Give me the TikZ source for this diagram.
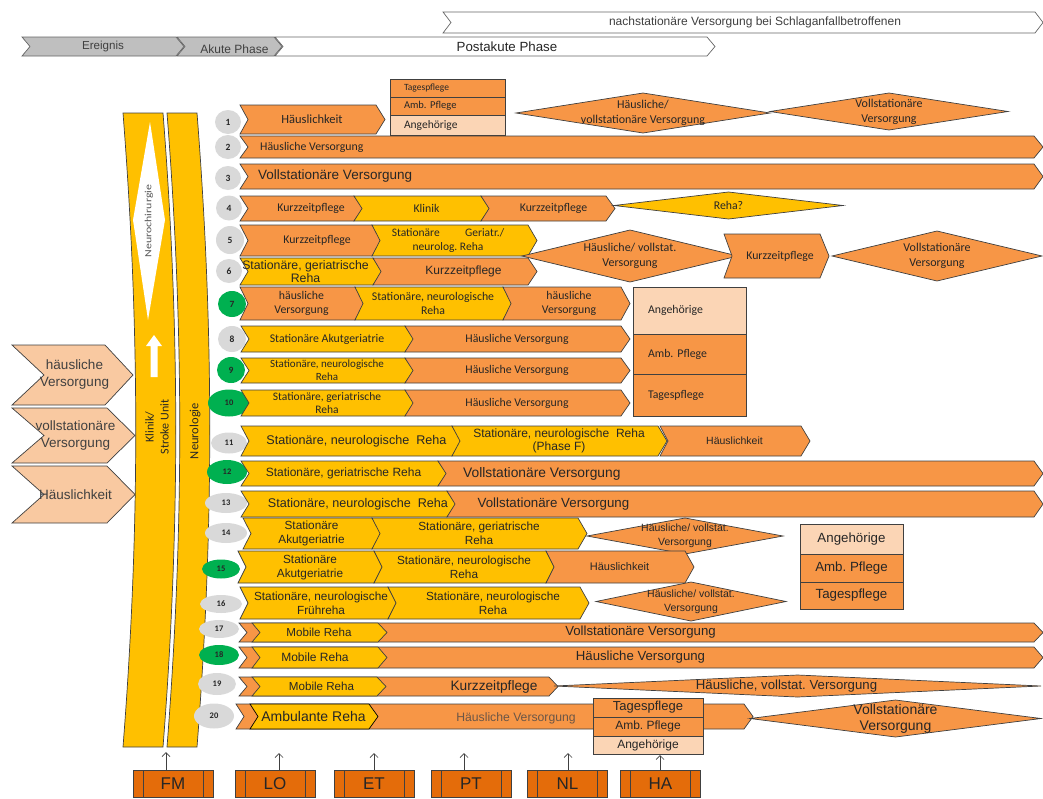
\documentclass[tikz,border=0pt]{standalone}
\usepackage{fontspec}
\setmainfont{Liberation Sans}
\newfontfamily\calfont{Carlito}
\newfontfamily\arifont{Liberation Sans}
\usetikzlibrary{arrows.meta,shapes.geometric}
\frenchspacing

\definecolor{orng}{HTML}{F79646}
\definecolor{gold}{HTML}{FFC000}
\definecolor{peach}{HTML}{FBD5B5}
\definecolor{apricot}{HTML}{F9C9A1}
\definecolor{rust}{HTML}{E46C0A}
\definecolor{greenc}{HTML}{00B050}
\definecolor{greyc}{HTML}{D9D9D9}
\definecolor{headgrey}{HTML}{BFBFBF}
\definecolor{ink}{HTML}{262626}
\definecolor{lineC}{HTML}{404040}
\definecolor{taupe}{HTML}{6B5646}

\newcommand\fs[2]{\fontsize{#1}{#2}\selectfont}
\newcommand\tipd{9}
\newcommand\notchd{8}

% chevron: name, left x, body right x, top y, bottom y, shape style, text options, text
\newcommand\chev[8]{%
  \path[#6] (#2,#4) -- (#3,#4) -- ({#3+\tipd},{(#4+#5)/2}) -- (#3,#5) -- (#2,#5) -- ({#2+\notchd},{(#4+#5)/2}) -- cycle;
  \node[lbl,#7] (#1) at ({(#2+#3+\notchd)/2},{(#4+#5)/2}) {#8};}
% diamond: name, left x, right x, top y, bottom y, shape style, text options, text
\newcommand\diam[8]{%
  \path[#6] (#2,{(#4+#5)/2}) -- ({(#2+#3)/2},#4) -- (#3,{(#4+#5)/2}) -- ({(#2+#3)/2},#5) -- cycle;
  \node[lbl,#7] (#1) at ({(#2+#3)/2},{(#4+#5)/2}) {#8};}
% rectangular cell: name, left x, right x, top y, bottom y, shape style, text options, text
\newcommand\cell[8]{%
  \path[#6] (#2,#4) rectangle (#3,#5);
  \node[lbl,#7] (#1) at ({(#2+#3)/2},{(#4+#5)/2}) {#8};}

\tikzset{
  shp/.style={draw=lineC,line width=0.7pt,line join=miter},
  boxO/.style={shp,fill=orng},
  boxY/.style={shp,fill=gold},
  boxP/.style={shp,fill=peach},
  boxA/.style={shp,fill=apricot},
  hdrG/.style={shp,draw=black!60,fill=headgrey},
  hdrW/.style={shp,draw=black!60,fill=white},
  lbl/.style={inner sep=0pt,align=center,text=ink,font=\calfont\fs{11.8}{14}},
  af/.style 2 args={font=\arifont\fs{#1}{#2}},
  cf/.style 2 args={font=\calfont\fs{#1}{#2}},
  numb/.style={ellipse,inner sep=0pt,text=ink,font=\calfont\bfseries\fs{9.5}{10}},
  numbs/.style={numb,font=\calfont\bfseries\fs{8.5}{9}},
  pbox/.style={draw=lineC,line width=0.7pt,fill=rust,minimum width=80,minimum height=27,
    inner sep=0pt,text=ink,font=\arifont\fs{17}{17},
    path picture={\draw[lineC,line width=0.7pt]
      ([xshift=10pt]path picture bounding box.north west) -- ([xshift=10pt]path picture bounding box.south west)
      ([xshift=-10pt]path picture bounding box.north east) -- ([xshift=-10pt]path picture bounding box.south east);}},
  conn/.style={draw=lineC,line width=0.7pt,-{Straight Barb[length=4pt,width=8pt]}}
}

\begin{document}
\begin{tikzpicture}[x=1pt,y=-1pt]
\useasboundingbox (0,0) rectangle (1043,798);

% ---------- phase header ----------
\renewcommand\tipd{8}\renewcommand\notchd{8}
\chev{nach}{443}{1035}{12}{33}{hdrW}{af={12}{14},text=lineC,xshift=12}{nachstationäre Versorgung bei Schlaganfallbetroffenen}
\chev{ereig}{22}{176}{37}{56}{hdrG}{af={11.6}{13},text=lineC}{Ereignis}
\chev{akut}{177}{274}{37}{56}{hdrG}{af={12}{13},text=lineC,xshift=5,yshift=-3}{Akute Phase}
\chev{post}{275}{707}{37}{56}{hdrW}{af={13.3}{15},text=ink,xshift=12}{Postakute Phase}

% ---------- entry points on the left ----------
\renewcommand\tipd{28}\renewcommand\notchd{32}
\chev{lhv}{12}{105}{345}{405}{boxA}{af={13.5}{17},text=lineC}{häusliche\\Versorgung}
\chev{lvv}{12}{107}{408}{463}{boxA}{af={13.5}{17},text=lineC}{vollstationäre\\Versorgung}
\chev{lhk}{12}{107}{466}{523}{boxA}{af={13.5}{17},text=lineC}{Häuslichkeit}

% ---------- acute care columns ----------
\path[boxY] (123,113) -- (163,113) .. controls (180,330) and (180,530) .. (163,747)
  -- (123,747) .. controls (140,530) and (140,330) .. (123,113) -- cycle;
\path[boxY] (167,113) -- (197,113) .. controls (214,330) and (214,530) .. (197,747)
  -- (167,747) .. controls (184,530) and (184,330) .. (167,113) -- cycle;
\path[fill=white] (150,122) -- (165,220) -- (148,320) -- (133,220) -- cycle;
\path[fill=white] (154,335) -- (162,346) -- (157.5,346) -- (157.5,377) -- (150.5,377)
  -- (150.5,346) -- (146,346) -- cycle;
\node[rotate=90,inner sep=0pt,text=black!65,font=\calfont\fs{9.5}{10}] (neuroc) at (149,221)
  {\scalebox{1.25}[1]{Neurochirurgie}};
\node[rotate=90,inner sep=0pt,align=center,text=ink,font=\calfont\fs{12}{15}] (klinik) at (157,427)
  {Klinik/\\Stroke Unit};
\node[rotate=90,inner sep=0pt,text=ink,font=\calfont\fs{12.5}{14}] (neurol) at (195,431) {Neurologie};

% ---------- pathway numbers ----------
\node[numb,fill=greyc,minimum width=26,minimum height=24] (n1) at (228,122) {1};
\node[numb,fill=greyc,minimum width=26,minimum height=24] (n2) at (228,147) {2};
\node[numb,fill=greyc,minimum width=26,minimum height=24] (n3) at (228,178) {3};
\node[numb,fill=greyc,minimum width=26,minimum height=25] (n4) at (229,208) {4};
\node[numb,fill=greyc,minimum width=28,minimum height=28] (n5) at (230,240) {5};
\node[numb,fill=greyc,minimum width=26,minimum height=24] (n6) at (229,271) {6};
\node[numb,fill=greenc,minimum width=28,minimum height=26] (n7) at (232,304) {7};
\node[numb,fill=greyc,minimum width=28,minimum height=26] (n8) at (232,339) {8};
\node[numb,fill=greenc,minimum width=28,minimum height=26] (n9) at (231,370) {9};
\node[numbs,fill=greenc,minimum width=42,minimum height=27] (n10) at (229,403) {10};
\node[numbs,fill=greyc,minimum width=36,minimum height=21] (n11) at (229,443) {11};
\node[numbs,fill=greenc,minimum width=40,minimum height=24] (n12) at (227,472) {12};
\node[numbs,fill=greyc,minimum width=42,minimum height=20] (n13) at (226,503) {13};
\node[numbs,fill=greyc,minimum width=42,minimum height=20] (n14) at (226,533) {14};
\node[numbs,fill=greenc,minimum width=38,minimum height=19] (n15) at (221,569) {15};
\node[numbs,fill=greyc,minimum width=42,minimum height=18] (n16) at (221,604) {16};
\node[numbs,fill=greyc,minimum width=40,minimum height=18] (n17) at (219,629) {17};
\node[numbs,fill=greenc,minimum width=40,minimum height=20] (n18) at (219,655) {18};
\node[numbs,fill=greyc,minimum width=38,minimum height=22] (n19) at (217,684) {19};
\node[numbs,fill=greyc,minimum width=40,minimum height=25] (n20) at (214,716) {20};

% ---------- pathways ----------
\renewcommand\tipd{9}\renewcommand\notchd{8}
% 1
\chev{r1a}{240}{376}{105}{134}{boxO}{cf={12.5}{14}}{Häuslichkeit}
\cell{r1t}{390}{505}{79}{97}{boxO}{cf={9.5}{11},text width=87,align=left}{Tagespflege}
\cell{r1m}{390}{505}{97}{115}{boxO}{cf={10.5}{12},text width=87,align=left}{Amb. Pflege}
\cell{r1g}{390}{505}{115}{135}{boxP}{cf={11.5}{13},text width=87,align=left}{Angehörige}
\diam{r1d}{516}{770}{93}{133}{boxO}{cf={12}{15}}{Häusliche/\\vollstationäre Versorgung}
\diam{r1e}{770}{1008}{93}{130}{boxO}{cf={12}{15}}{Vollstationäre\\Versorgung}
% 2, 3
\chev{r2}{240}{1034}{136}{158}{boxO}{anchor=west,xshift=-381}{Häusliche Versorgung}
\chev{r3}{240}{1034}{164}{189}{boxO}{af={13.5}{15},anchor=west,xshift=-383}{Vollstationäre Versorgung}
% 4
\chev{r4a}{240}{354}{196}{221}{boxO}{xshift=10}{Kurzzeitpflege}
\chev{r4b}{354}{481}{196}{221}{boxY}{xshift=5}{Klinik}
\chev{r4c}{481}{606}{196}{221}{boxO}{xshift=6}{Kurzzeitpflege}
\diam{r4d}{614}{843}{192}{219}{boxY}{}{Reha?}
% 5
\chev{r5a}{240}{372}{225}{256}{boxO}{xshift=7}{Kurzzeitpflege}
\chev{r5b}{372}{528}{225}{256}{boxY}{cf={11.5}{13.5},xshift=-6}{Stationäre\hspace{2.2em}Geriatr./\\neurolog. Reha}
\diam{r5c}{522}{738}{230}{282}{boxO}{cf={12}{15}}{Häusliche/ vollstat.\\Versorgung}
\chev{r5d}{724}{820}{234}{278}{boxO}{xshift=4}{Kurzzeitpflege}
\diam{r5e}{832}{1042}{231}{281}{boxO}{cf={12}{15}}{Vollstationäre\\Versorgung}
% 6
\chev{r6a}{240}{373}{258}{285}{boxY}{af={12.3}{13.5},xshift=-5}{Stationäre, geriatrische\\Reha}
\chev{r6b}{373}{528}{258}{285}{boxO}{af={12}{14},xshift=9}{Kurzzeitpflege}
% 7
\chev{r7a}{240}{355}{287}{320}{boxO}{}{häusliche\\Versorgung}
\chev{r7b}{355}{503}{287}{320}{boxY}{}{Stationäre, neurologische\\Reha}
\chev{r7c}{503}{621}{287}{320}{boxO}{xshift=3}{häusliche\\Versorgung}
\cell{r7g}{633}{746}{287}{334}{boxP}{text width=83,align=left}{Angehörige}
\cell{r7m}{633}{746}{334}{374}{boxO}{text width=83,align=left}{Amb. Pflege}
\cell{r7t}{633}{746}{374}{416}{boxO}{text width=83,align=left}{Tagespflege}
% 8 - 10
\chev{r8a}{241}{405}{326}{352}{boxY}{}{Stationäre Akutgeriatrie}
\chev{r8b}{405}{621}{326}{352}{boxO}{}{Häusliche Versorgung}
\chev{r9a}{241}{405}{358}{383}{boxY}{cf={11}{13}}{Stationäre, neurologische\\Reha}
\chev{r9b}{405}{621}{358}{383}{boxO}{}{Häusliche Versorgung}
\chev{r10a}{241}{405}{390}{416}{boxY}{cf={11.5}{13}}{Stationäre, geriatrische\\Reha}
\chev{r10b}{405}{621}{390}{416}{boxO}{}{Häusliche Versorgung}
% 11
\chev{r11a}{241}{452}{426}{456}{boxY}{af={12.6}{14},xshift=6}{Stationäre, neurologische\ \ Reha}
\chev{r11b}{452}{658}{426}{456}{boxY}{af={12}{13.5}}{Stationäre, neurologische\ \ Reha\\(Phase F)}
\chev{r11c}{660}{801}{426}{456}{boxO}{af={10.5}{12}}{Häuslichkeit}
% 12, 13
\chev{r12a}{241}{438}{461}{486}{boxY}{af={12}{14}}{Stationäre, geriatrische Reha}
\chev{r12b}{438}{1034}{461}{486}{boxO}{af={13.8}{15},anchor=west,xshift=-277}{Vollstationäre Versorgung}
\chev{r13a}{241}{447}{491}{517}{boxY}{af={12.6}{14},xshift=10}{Stationäre, neurologische\ \ Reha}
\chev{r13b}{447}{1034}{491}{517}{boxO}{af={13.3}{15},anchor=west,xshift=-267}{Vollstationäre Versorgung}
% 14
\chev{r14a}{243}{372}{518}{549}{boxY}{af={11.8}{14}}{Stationäre\\Akutgeriatrie}
\chev{r14b}{372}{578}{518}{549}{boxY}{af={11.8}{14}}{Stationäre, geriatrische\\Reha}
\diam{r14c}{587}{783}{518}{554}{boxO}{af={10.5}{14}}{Häusliche/ vollstat.\\Versorgung}
\cell{r14g}{800}{903}{524}{554}{boxP}{af={13.3}{15}}{Angehörige}
\cell{r14m}{800}{903}{554}{582}{boxO}{af={13.3}{15}}{Amb. Pflege}
\cell{r14t}{800}{903}{582}{609}{boxO}{af={13.3}{15}}{Tagespflege}
% 15
\chev{r15a}{238}{374}{551}{583}{boxY}{af={11.8}{14}}{Stationäre\\Akutgeriatrie}
\chev{r15b}{374}{546}{551}{583}{boxY}{af={11.8}{14}}{Stationäre, neurologische\\Reha}
\chev{r15c}{546}{685}{551}{583}{boxO}{af={11}{13}}{Häuslichkeit}
% 16
\chev{r16a}{240}{388}{587}{619}{boxY}{af={11.8}{14},xshift=3}{Stationäre, neurologische\\Frühreha}
\chev{r16b}{388}{580}{587}{619}{boxY}{af={11.8}{14},xshift=5}{Stationäre, neurologische\\Reha}
\diam{r16c}{596}{786}{582}{621}{boxO}{af={10.5}{14}}{Häusliche/ vollstat.\\Versorgung}
% 17 - 20
\chev{r17b}{239}{1034}{623}{642}{boxO}{af={13.2}{15}}{Vollstationäre Versorgung}
\chev{r17a}{252}{378}{623}{642}{boxY}{af={11.6}{13}}{Mobile Reha}
\chev{r18b}{239}{1034}{647}{668}{boxO}{af={13.2}{15}}{Häusliche Versorgung}
\chev{r18a}{252}{378}{647}{668}{boxY}{af={12}{13},xshift=-4}{Mobile Reha}
\chev{r19b}{239}{549}{677}{696}{boxO}{af={13.7}{15},xshift=96}{Kurzzeitpflege}
\chev{r19a}{252}{377}{677}{696}{boxY}{af={11.6}{13},xshift=3}{Mobile Reha}
\diam{r19c}{554}{1041}{675}{697}{boxO}{af={13.2}{15},xshift=-11}{Häusliche, vollstat. Versorgung}
\chev{r20b}{236}{744}{704}{729}{boxO}{af={12.2}{14},text=taupe,xshift=22,yshift=-2}{Häusliche Versorgung}
\chev{r20a}{250}{369}{704}{729}{boxY,draw=black}{af={14}{15}}{Ambulante Reha}
\cell{r20t}{593}{703}{698}{717}{boxO}{af={13}{14}}{Tagespflege}
\cell{r20m}{593}{703}{717}{736}{boxO}{af={12}{13}}{Amb. Pflege}
\cell{r20g}{593}{703}{736}{754}{boxP}{af={12}{13}}{Angehörige}
\diam{r20c}{750}{1041}{700}{737}{boxO}{af={14}{16}}{Vollstationäre\\Versorgung}

% ---------- professions ----------
\node[pbox] (fm) at (173,783.5) {FM};
\node[pbox] (lo) at (275,783.5) {LO};
\node[pbox] (et) at (374,783.5) {ET};
\node[pbox] (pt) at (471,783.5) {PT};
\node[pbox] (nl) at (567.5,783.5) {NL};
\node[pbox] (ha) at (660.5,783.5) {HA};
\coordinate (fmT) at (166,752);
\coordinate (loT) at (279,753);
\coordinate (etT) at (374,753);
\coordinate (ptT) at (464,753);
\coordinate (nlT) at (568,753);
\coordinate (haT) at (660,755);
\draw[conn] (fmT |- fm.north) -- (fmT);
\draw[conn] (loT |- lo.north) -- (loT);
\draw[conn] (etT |- et.north) -- (etT);
\draw[conn] (ptT |- pt.north) -- (ptT);
\draw[conn] (nlT |- nl.north) -- (nlT);
\draw[conn] (haT |- ha.north) -- (haT);
\end{tikzpicture}
\end{document}
